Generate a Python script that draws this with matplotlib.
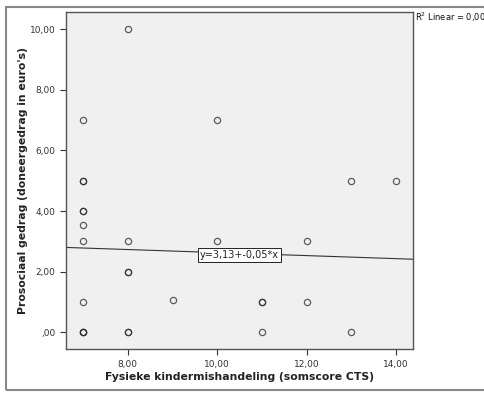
import matplotlib
matplotlib.use("Agg")
from matplotlib import pyplot as plt
from matplotlib.patches import Rectangle

# scores (x) and donation amounts (y), duplicates kept as separate points
cts_score = [7, 7, 7, 7, 7, 7, 7, 7, 7, 7, 7,
             8, 8, 8, 8, 8, 8,
             9,
             10, 10,
             11, 11, 11,
             12, 12,
             13, 13,
             14]
donation = [0, 0, 1, 3, 3.55, 4, 4, 5, 5, 7, 0,
            0, 0, 2, 2, 3, 10,
            1.07,
            3, 7,
            0, 1, 1,
            1, 3,
            0, 5,
            5]

fit_intercept = 3.13
fit_slope = -0.05
fit_label = "y=3,13+-0,05*x"
r2_label = "R$^2$ Linear = 0,002"

x_ticks = [8, 10, 12, 14]
x_ticklabels = ["8,00", "10,00", "12,00", "14,00"]
y_ticks = [0, 2, 4, 6, 8, 10]
y_ticklabels = [",00", "2,00", "4,00", "6,00", "8,00", "10,00"]

fig = plt.figure(figsize=(4.85, 3.94), dpi=100)
fig.patch.set_facecolor("white")
ax = fig.add_axes([0.1355, 0.1134, 0.716, 0.856])
ax.set_facecolor("#f0f0f0")

xmin, xmax = 6.61, 14.38
ax.set_xlim(xmin, xmax)
ax.set_ylim(-0.56, 10.56)

ax.plot(cts_score, donation, "o", ms=4.5, mfc="none", mec="#2a2a2a",
        mew=0.9, alpha=0.75, linestyle="none")

ax.plot([xmin, xmax], [fit_intercept + fit_slope * xmin, fit_intercept + fit_slope * xmax],
        color="#333333", lw=0.8)
ax.text(10.5, 2.55, fit_label, fontsize=7, ha="center", va="center", color="#222222",
        bbox=dict(boxstyle="square,pad=0.2", fc="white", ec="#222222", lw=0.7))

ax.set_xticks(x_ticks)
ax.set_xticklabels(x_ticklabels)
ax.set_yticks(y_ticks)
ax.set_yticklabels(y_ticklabels)
ax.tick_params(direction="out", length=4, width=0.8, labelsize=6.5, colors="#333333",
               top=False, right=False)
for s in ax.spines.values():
    s.set_color("#555555")
    s.set_linewidth(1.0)

ax.set_xlabel("Fysieke kindermishandeling (somscore CTS)", fontsize=7.8, fontweight="bold",
              color="#222222")
ax.set_ylabel("Prosociaal gedrag (doneergedrag in euro's)", fontsize=7.8, fontweight="bold",
              color="#222222")
ax.xaxis.set_label_coords(0.5, -0.066)
ax.yaxis.set_label_coords(-0.108, 0.5)

fig.text(415 / 485, 1 - 17 / 394, r2_label, fontsize=6, ha="left", va="center",
         color="#111111")

# outer frame around the chart
fig.patches.append(Rectangle((6 / 485, 1 - 390 / 394), 1.2, (390 - 7) / 394,
                             transform=fig.transFigure, fill=False, ec="#888888",
                             lw=1.5, clip_on=False))

plt.savefig("out.png", dpi=100)
